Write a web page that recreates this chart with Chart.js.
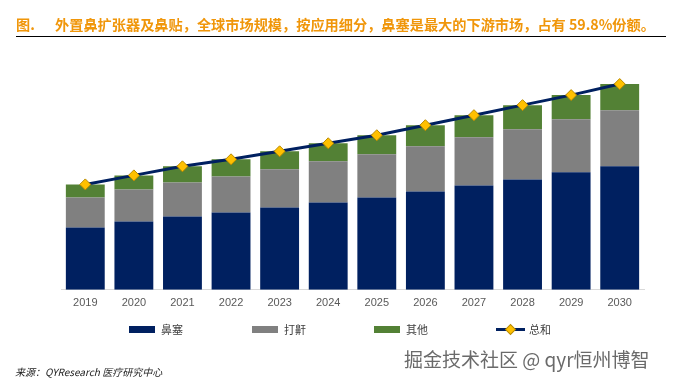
<!DOCTYPE html>
<html><head><meta charset="utf-8">
<script src="https://cdn.jsdelivr.net/npm/chart.js@4/dist/chart.umd.min.js"></script>
<style>
html,body{margin:0;padding:0;background:#fff;}
#wrap{position:relative;width:681px;height:384px;overflow:hidden;font-family:"Noto Sans CJK SC","Noto Sans",sans-serif;}
#c{position:absolute;left:0;top:0;}
.title{position:absolute;top:14px;left:16px;font-size:14.2px;font-weight:bold;color:#F0960A;white-space:nowrap;line-height:20px;}
.title .lab{position:absolute;left:0;top:0;}
.title .txt{position:absolute;left:39px;top:0;}
.rule{position:absolute;left:16px;top:35.5px;width:650px;height:1.5px;background:#000;}
.leg{position:absolute;top:321px;height:16px;font-size:11px;color:#404040;white-space:nowrap;line-height:16px;}
.leg .box{position:absolute;left:0;top:5px;width:26px;height:7px;}
.leg .t{position:absolute;left:32px;top:0;}
.src{position:absolute;left:15px;top:364px;font-size:10px;font-style:italic;color:#222;white-space:nowrap;}
.wm{position:absolute;left:404px;top:345px;font-size:19px;color:#6a6a6a;white-space:nowrap;text-shadow:0 0 2px #fff;}
</style></head>
<body><div id="wrap">
<canvas id="c" width="681" height="384"></canvas>
<div class="title"><span class="lab">图.</span><span class="txt">外置鼻扩张器及鼻贴，全球市场规模，按应用细分，鼻塞是最大的下游市场，占有 59.8%份额。</span></div>
<div class="rule"></div>
<div id="legend"></div>
<div class="src">来源：QYResearch 医疗研究中心</div>
<div class="wm">掘金技术社区 @ qyr恒州博智</div>
</div>
<script>
const years = ["2019","2020","2021","2022","2023","2024","2025","2026","2027","2028","2029","2030"];
const congestion = [62,68,73,77,82,87,92,98,104,110,117,123];
const snoring = [30,32,34,36,38,41,43,45,48,50,53,56];
const others = [13,14,16,17,18,18,19,21,22,24,24,26];
const totals = [105,114,123,130,138,146,154,164,174,184,194,205];
const seriesNames = ["鼻塞","打鼾","其他","总和"];
const colors = ["#002060","#808080","#538135","#002060"];

new Chart(document.getElementById('c'), {
  data: {
    labels: years,
    datasets: [
      {type:'line', label:seriesNames[3], data:totals, borderColor:colors[3], borderWidth:3,
       pointStyle:'rectRot', pointRadius:5.5, pointBackgroundColor:'#FFC000', pointBorderColor:'#B88A00',
       pointBorderWidth:1, tension:0, order:0},
      {type:'bar', label:seriesNames[0], data:congestion, backgroundColor:colors[0], order:1},
      {type:'bar', label:seriesNames[1], data:snoring, backgroundColor:colors[1], order:1},
      {type:'bar', label:seriesNames[2], data:others, backgroundColor:colors[2], order:1}
    ]
  },
  options: {
    responsive:false, animation:false,
    layout:{padding:{left:61,right:37,top:69,bottom:67}},
    datasets:{bar:{barPercentage:0.8,categoryPercentage:1.0}},
    plugins:{legend:{display:false},tooltip:{enabled:false}},
    scales:{
      x:{stacked:true, grid:{display:false,drawTicks:false}, border:{color:'#d9d9d9',width:1},
         ticks:{color:'#595959',font:{size:11,family:'"Liberation Sans", Arial, sans-serif'},padding:7}},
      y:{stacked:true, display:false, min:0, max:220}
    }
  }
});

// legend
const lg = document.getElementById('legend');
const lx = [129,252,374,496];
[0,1,2,3].forEach((i,k)=>{
  const d = document.createElement('div');
  d.className='leg'; d.style.left = lx[k]+'px';
  if(i<3){
    d.innerHTML = '<div class="box" style="background:'+colors[i]+'"></div><span class="t">'+seriesNames[i]+'</span>';
  } else {
    d.innerHTML = '<svg width="30" height="16" style="position:absolute;left:0;top:0"><line x1="0" y1="8.5" x2="29" y2="8.5" stroke="'+colors[3]+'" stroke-width="3"/><rect x="11" y="5" width="7" height="7" fill="#FFC000" stroke="#B88A00" stroke-width="1" transform="rotate(45 14.5 8.5)"/></svg><span class="t" style="left:33px">'+seriesNames[i]+'</span>';
  }
  lg.appendChild(d);
});
</script>
</body></html>
